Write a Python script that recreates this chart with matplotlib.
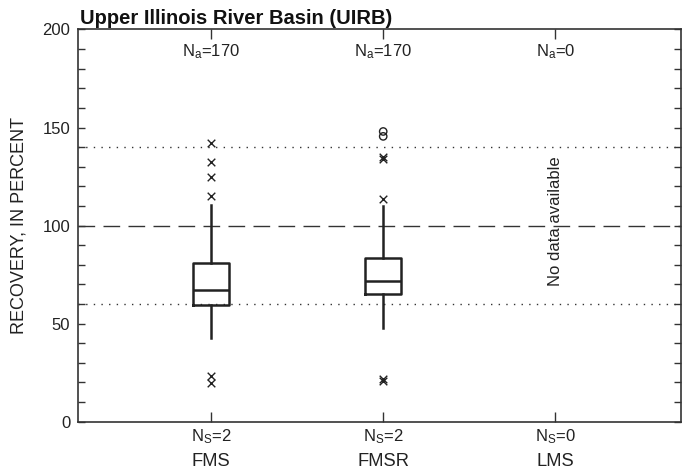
import matplotlib
matplotlib.use("Agg")
import matplotlib.pyplot as plt
from matplotlib.ticker import MultipleLocator

plt.rcParams['font.family'] = ['Liberation Sans', 'DejaVu Sans']
plt.rcParams['mathtext.default'] = 'regular'

# Sampler categories and counts
categories = ["FMS", "FMSR", "LMS"]
n_analyses = [170, 170, 0]
n_sites = [2, 2, 0]

# Box-plot summary statistics (percent recovery)
medians = [67, 72]
q1 = [59.5, 65]
q3 = [81, 83.5]
whisker_lo = [42.5, 48]
whisker_hi = [110.5, 110]

# Outliers drawn as crosses
outliers_x = [[142, 132.5, 125, 115, 23.5, 19.5],
              [135, 134, 113.5, 22, 20.5]]
# Outliers drawn as circles
outliers_o = [[], [148, 145.5]]

# Reference levels
target = 100
limits = [60, 140]

fig = plt.figure(figsize=(6.82, 4.75), dpi=100)
ax = fig.add_axes([78 / 682, (475 - 421.7) / 475, (681 - 78) / 682, (421.7 - 29.5) / 475])

ax.set_xlim(0.227, 3.73)
ax.set_ylim(0, 200)

ax.axhline(target, color='#333333', lw=1.0, dashes=(12, 6), zorder=1)
for lv in limits:
    ax.axhline(lv, color='#333333', lw=1.0, dashes=(1, 4.5), zorder=1)

stats = []
for i in range(len(medians)):
    stats.append(dict(med=medians[i], q1=q1[i], q3=q3[i],
                      whislo=whisker_lo[i], whishi=whisker_hi[i], fliers=[]))
ax.bxp(stats, positions=[1, 2], widths=0.207, showfliers=False, showcaps=False,
       boxprops=dict(color='#222222', lw=1.8),
       medianprops=dict(color='#222222', lw=1.8),
       whiskerprops=dict(color='#222222', lw=1.8),
       manage_ticks=False, zorder=3)

for i, vals in enumerate(outliers_x):
    ax.scatter([i + 1] * len(vals), vals, marker='x', s=30, c='#222222', lw=1.0, zorder=4)
for i, vals in enumerate(outliers_o):
    if vals:
        ax.scatter([i + 1] * len(vals), vals, marker='o', s=28, facecolors='none',
                   edgecolors='#222222', lw=1.0, zorder=4)

# Category for which no samples exist
ax.text(3, 102, "No data available", rotation=90, ha='center', va='center',
        fontsize=12, color='#222222')

for i, cat in enumerate(categories):
    ax.text(i + 1, 188.5, f"N$_a$={n_analyses[i]}", ha='center', va='center',
            fontsize=12, color='#222222')
    ax.text(i + 1, -0.038, f"N$_S$={n_sites[i]}", transform=ax.get_xaxis_transform(),
            ha='center', va='center', fontsize=12, color='#222222')
    ax.text(i + 1, -0.1015, cat, transform=ax.get_xaxis_transform(),
            ha='center', va='center', fontsize=13.2, color='#222222')

ax.set_xticks([1, 2, 3])
ax.set_xticklabels([])
ax.tick_params(axis='x', which='both', direction='in', top=True, bottom=True,
               length=7, width=1, color='#333333')
ax.yaxis.set_major_locator(MultipleLocator(50))
ax.yaxis.set_minor_locator(MultipleLocator(10))
ax.tick_params(axis='y', which='both', direction='in', left=True, right=True,
               length=5, width=1, color='#333333', labelsize=12, pad=5.5,
               labelcolor='#222222')

for sp in ax.spines.values():
    sp.set_color('#333333')
    sp.set_linewidth(1.2)

ax.set_ylabel("RECOVERY, IN PERCENT", fontsize=13, color='#222222', labelpad=11)
title = ax.set_title("Upper Illinois River Basin (UIRB)", loc='left', fontsize=14.5,
                     fontweight='bold', pad=4, color='#111111')
title.set_x(0.003)

fig.savefig("out.png", dpi=100)
